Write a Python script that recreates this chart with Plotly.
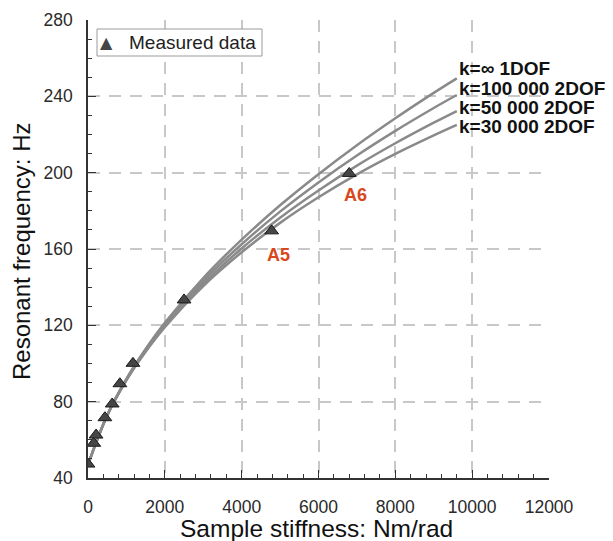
import plotly.graph_objects as go

# Measured data (sample stiffness Nm/rad, resonant frequency Hz)
meas_k = [0, 150, 210, 440, 630, 830, 1170, 2500, 4780, 6800]
meas_f = [47.3, 58.2, 62.5, 71.6, 78.8, 89.4, 100.1, 133.3, 169.5, 199.6]

# Model curves
curve_k = [0, 500, 1000, 1500, 2000, 3000, 4000, 5000, 6000, 7000, 8000, 9000, 9600]
f_1dof = [47.0, 73.0, 92.0, 107.6, 121.3, 144.8, 164.9, 182.9, 199.2, 214.4, 228.5, 241.8, 249.4]
f_k100k = [47.0, 72.9, 91.7, 107.1, 120.5, 143.3, 162.5, 179.6, 194.9, 209.0, 221.9, 233.9, 240.7]
f_k50k = [47.0, 72.8, 91.4, 106.5, 119.7, 141.8, 160.3, 176.4, 190.7, 203.7, 215.4, 226.2, 232.3]
f_k30k = [47.0, 72.7, 91.2, 106.1, 119.0, 140.6, 158.3, 173.7, 187.1, 199.1, 209.8, 219.5, 225.0]

curve_names = ["k=\u221e 1DOF", "k=100 000 2DOF", "k=50 000 2DOF", "k=30 000 2DOF"]
curve_vals = [f_1dof, f_k100k, f_k50k, f_k30k]

x_ticks = [0, 2000, 4000, 6000, 8000, 10000, 12000]
y_ticks = [40, 80, 120, 160, 200, 240, 280]

point_labels = ["A5", "A6"]
point_label_k = [4780, 6800]
point_label_f = [169.5, 199.6]

legend_label = "Measured data"

FONT = "Arial, Liberation Sans, sans-serif"

# the page body has an 8px margin, so the figure starts at (8, 8) in the page
OFF = 8
PL, PT, PW, PH = 88 - OFF, 20 - OFF, 461, 458   # plot area in figure pixels
FIG_W, FIG_H = 613 - OFF, 541 - OFF


def px_to_paper(xp, yp):
    """page pixel -> paper coordinates"""
    return (xp - OFF - PL) / PW, (PT + PH - (yp - OFF)) / PH


fig = go.Figure()
for name, vals in zip(curve_names, curve_vals):
    fig.add_trace(go.Scatter(
        x=curve_k, y=vals, mode="lines", name=name, showlegend=False,
        line=dict(color="#8a8a8a", width=2.5, shape="spline", smoothing=1.0),
        hoverinfo="skip"))

fig.add_trace(go.Scatter(
    x=meas_k, y=meas_f, mode="markers", name=legend_label, showlegend=False,
    marker=dict(symbol="triangle-up", size=12, color="#454545",
                line=dict(color="#1a1a1a", width=1))))

# Curve labels at right end of curves
label_y_px = [68, 88, 107, 126]
for name, ypx in zip(curve_names, label_y_px):
    px, py = px_to_paper(457, ypx)
    fig.add_annotation(
        text="<b>" + name + "</b>", xref="paper", yref="paper",
        x=px, y=py, xanchor="left", yanchor="middle", showarrow=False,
        font=dict(family=FONT, size=19, color="#111111"))

# A5 / A6 labels
label_offsets = [(7, 24), (6, 22)]
for lbl, kx, fy, (dx, dy) in zip(point_labels, point_label_k, point_label_f, label_offsets):
    fig.add_annotation(
        text="<b>" + lbl + "</b>", x=kx, y=fy, xshift=dx, yshift=-dy,
        showarrow=False, xanchor="center", yanchor="middle",
        font=dict(family=FONT, size=18, color="#d9481c"))

# Axis titles
tx, ty = px_to_paper(316, 528)
fig.add_annotation(text="Sample stiffness: Nm/rad", xref="paper", yref="paper",
                   x=tx, y=ty, xanchor="center", yanchor="middle", showarrow=False,
                   font=dict(family=FONT, size=24.5, color="#111111"))
tx, ty = px_to_paper(21, 252)
fig.add_annotation(text="Resonant frequency: Hz", xref="paper", yref="paper",
                   x=tx, y=ty, xanchor="center", yanchor="middle", showarrow=False,
                   textangle=-90,
                   font=dict(family=FONT, size=24, color="#111111"))

# Legend box (drawn manually for a tight frame)
x0, y1 = px_to_paper(97, 29)
x1, y0 = px_to_paper(262, 56)
fig.add_shape(type="rect", xref="paper", yref="paper", x0=x0, y0=y0, x1=x1, y1=y1,
              line=dict(color="#9a9a9a", width=1), fillcolor="white", layer="above")
mx, my = px_to_paper(106, 42)
fig.add_annotation(text="\u25B2", xref="paper", yref="paper", x=mx, y=my,
                   xanchor="center", yanchor="middle", showarrow=False,
                   font=dict(family="DejaVu Sans", size=16, color="#454545"))
tx, ty = px_to_paper(127, 43)
fig.add_annotation(text=legend_label, xref="paper", yref="paper", x=tx, y=ty,
                   xanchor="left", yanchor="middle", showarrow=False,
                   font=dict(family=FONT, size=19, color="#222222"))

axis_common = dict(
    showline=True, linecolor="#333333", linewidth=1.5,
    ticks="inside", ticklen=8, tickwidth=1.3, tickcolor="#333333",
    showgrid=True, gridcolor="#c8c8c8", gridwidth=2, griddash="12px,9px",
    zeroline=False, tickfont=dict(family=FONT, size=17.5, color="#2a2a2a"),
    mirror=False,
)

fig.update_xaxes(
    range=[0, 12000], tickvals=x_ticks, ticktext=[str(v) for v in x_ticks],
    minor=dict(dtick=400, ticks="inside", ticklen=4, tickcolor="#333333", showgrid=False),
    ticklabelstandoff=12,
    **axis_common)
fig.update_yaxes(
    range=[40, 280], tickvals=y_ticks, ticktext=[str(v) for v in y_ticks],
    minor=dict(dtick=10, ticks="inside", ticklen=4, tickcolor="#333333", showgrid=False),
    ticklabelstandoff=10,
    **axis_common)

fig.update_layout(
    width=FIG_W, height=FIG_H,
    margin=dict(l=PL, r=FIG_W - PL - PW, t=PT, b=FIG_H - PT - PH, autoexpand=False),
    paper_bgcolor="white", plot_bgcolor="white",
    font=dict(family=FONT),
    showlegend=False,
)

fig.write_html("out.html")
